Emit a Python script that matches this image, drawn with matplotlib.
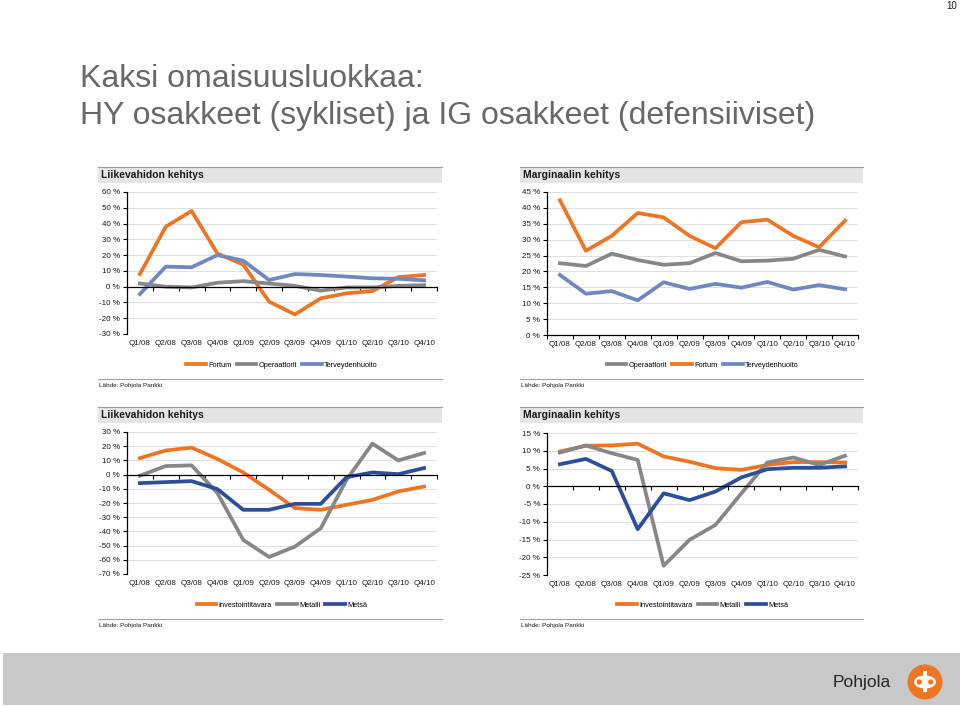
import matplotlib
matplotlib.use("Agg")
import matplotlib.pyplot as plt
from matplotlib.patches import Rectangle, Circle, Ellipse
import numpy as np

plt.rcParams['font.family'] = ['Liberation Sans', 'DejaVu Sans']

quarters = ["Q1/08", "Q2/08", "Q3/08", "Q4/08", "Q1/09", "Q2/09",
            "Q3/09", "Q4/09", "Q1/10", "Q2/10", "Q3/10", "Q4/10"]

# Liikevahidon kehitys (defensiiviset)
fortum_lv = [8, 38, 48, 21, 14, -9.5, -17.6, -7.4, -4.2, -2.8, 6, 7.4]
operaattorit_lv = [2, 0, -0.5, 2.5, 3.5, 2, 0.5, -2.5, -0.5, -0.5, 0.5, 1]
terveys_lv = [-4.7, 12.7, 12.3, 20, 16.5, 4.2, 8, 7.4, 6.4, 5.3, 5, 4]

# Marginaalin kehitys (defensiiviset)
operaattorit_m = [22.6, 21.7, 25.6, 23.6, 22.1, 22.6, 25.8, 23.2, 23.4, 24, 26.8, 24.7]
fortum_m = [42.4, 26.5, 31.2, 38.4, 37, 31.2, 27.3, 35.5, 36.3, 31.2, 27.6, 36]
terveys_m = [18.9, 13, 13.8, 10.9, 16.6, 14.5, 16.1, 14.9, 16.7, 14.3, 15.7, 14.4]

# Liikevahidon kehitys (sykliset)
invest_lv = [11.6, 17, 19, 11, 1.5, -10.7, -23.6, -24.8, -21.3, -17.8, -11.9, -8.4]
metalli_lv = [-0.8, 6, 6.5, -13, -46, -58, -50.7, -37.8, -3.6, 21.8, 10, 15.2]
metsa_lv = [-6, -5.3, -4.6, -10.2, -24.8, -24.8, -20.6, -20.6, -1.8, 1.5, 0.3, 4.6]

# Marginaalin kehitys (sykliset)
invest_m = [9.8, 11.4, 11.5, 12, 8.4, 6.9, 5.1, 4.6, 6, 6.8, 6.8, 6.7]
metalli_m = [9.5, 11.5, 9.3, 7.4, -22.4, -15.1, -10.9, -2, 6.7, 8.1, 6, 8.6]
metsa_m = [6.2, 7.7, 4.3, -12.1, -2, -3.9, -1.5, 2.5, 4.8, 5.2, 5.2, 5.6]

ORANGE = '#EE7524'
GRAY = '#878787'
LBLUE = '#6F88BF'
DBLUE = '#2D4F9A'

W, H = 960, 706
fig = plt.figure(figsize=(9.6, 7.06), dpi=100)
bg = fig.add_axes([0, 0, 1, 1])
bg.set_xlim(0, W)
bg.set_ylim(H, 0)
bg.axis('off')


def px_axes(x0, y0, x1, y1):
    return fig.add_axes([x0 / W, 1 - y1 / H, (x1 - x0) / W, (y1 - y0) / H])


def panel(hx0, hx1, hy, title, box, series, ymin, ymax, step, legend_y, rule_y):
    # header band
    bg.add_patch(Rectangle((hx0, hy), hx1 - hx0, 16, fc='#E5E5E5', ec='none'))
    bg.plot([hx0, hx1], [hy, hy], color='#9A9A9A', lw=0.8)
    bg.text(hx0 + 3, hy + 8.5, title, fontsize=7.5, fontweight='bold',
            va='center', color='#1a1a1a')

    ax = px_axes(*box)
    ax.patch.set_alpha(0)
    x = np.arange(len(quarters))
    for name, vals, color in series:
        ax.plot(x, vals, color=color, lw=2.7, label=name)

    ax.set_xlim(-0.5, len(quarters) - 0.5)
    ax.set_ylim(ymin, ymax)
    ax.spines['top'].set_visible(False)
    ax.spines['right'].set_visible(False)
    ax.spines['left'].set_linewidth(0.9)
    ax.spines['bottom'].set_linewidth(0.9)
    ax.spines['bottom'].set_position(('data', 0))

    ax.set_xticks(np.arange(-0.5, len(quarters), 1))
    ax.set_xticklabels([])
    ax.tick_params(axis='x', direction='out', length=3, width=0.8)
    for i, q in enumerate(quarters):
        ax.annotate(q, xy=(i, 0), xycoords=('data', 'axes fraction'),
                    xytext=(0, -6.5), textcoords='offset points',
                    ha='center', va='center', fontsize=5.8, color='#1a1a1a')

    yt = np.arange(ymin, ymax + step / 2, step)
    ax.set_yticks(yt)
    ax.set_yticklabels([f"{v:g} %" for v in yt])
    ax.tick_params(axis='y', direction='out', length=3, width=0.8,
                   labelsize=5.8, pad=2, labelcolor='#1a1a1a')
    ax.yaxis.grid(True, color='#DADADA', lw=0.6)
    ax.set_axisbelow(True)

    cx = (box[0] + box[2]) / 2
    ax.legend(loc='center', bbox_to_anchor=(cx / W, 1 - legend_y / H),
              bbox_transform=fig.transFigure, ncol=3, frameon=False,
              fontsize=5.3, handlelength=2.7, handletextpad=0.3,
              columnspacing=0.7)

    bg.plot([hx0, hx1], [rule_y, rule_y], color='#A5A5A5', lw=0.8)
    bg.text(hx0 + 1, rule_y + 6.5, "Lähde: Pohjola Pankki", fontsize=4.6,
            va='center', color='#1a1a1a')
    return ax


panel(98, 442, 167, "Liikevahidon kehitys", (127, 192, 437, 334),
      [("Fortum", fortum_lv, ORANGE), ("Operaattorit", operaattorit_lv, GRAY),
       ("Terveydenhuolto", terveys_lv, LBLUE)],
      -30, 60, 10, 365, 379)

panel(520, 863, 167, "Marginaalin kehitys", (547, 192, 858, 335),
      [("Operaattorit", operaattorit_m, GRAY), ("Fortum", fortum_m, ORANGE),
       ("Terveydenhuolto", terveys_m, LBLUE)],
      0, 45, 5, 365, 379)

panel(98, 442, 407, "Liikevahidon kehitys", (127, 432, 437, 574),
      [("Investointitavara", invest_lv, ORANGE), ("Metalli", metalli_lv, GRAY),
       ("Metsä", metsa_lv, DBLUE)],
      -70, 30, 10, 605, 619)

panel(520, 863, 407, "Marginaalin kehitys", (547, 433, 858, 575),
      [("Investointitavara", invest_m, ORANGE), ("Metalli", metalli_m, GRAY),
       ("Metsä", metsa_m, DBLUE)],
      -25, 15, 5, 605, 619)

# title
bg.text(80, 87, "Kaksi omaisuusluokkaa:", fontsize=23, va='baseline', color='#686868')
bg.text(80, 124, "HY osakkeet (sykliset) ja IG osakkeet (defensiiviset)",
        fontsize=23, va='baseline', color='#686868')

# page number
bg.text(952, 6, "10", fontsize=7, ha='center', va='center', color='#1a1a1a')

# footer band and logo
bg.add_patch(Rectangle((3, 653), W - 3, 52, fc='#C8C8C8', ec='none'))
bg.text(862, 682, "Pohjola", fontsize=12.5, ha='center', va='center', color='#262626')
bg.add_patch(Circle((925, 682), 17.5, fc=ORANGE, ec='none'))
bg.add_patch(Ellipse((925, 682), 22, 13, fc='white', ec='none'))
bg.add_patch(Circle((919.3, 682), 2.6, fc=ORANGE, ec='none'))
bg.add_patch(Circle((930.7, 682), 2.6, fc=ORANGE, ec='none'))
bg.add_patch(Rectangle((923.4, 671), 3.2, 21, fc='white', ec='none'))

fig.savefig("out.png", dpi=100)
